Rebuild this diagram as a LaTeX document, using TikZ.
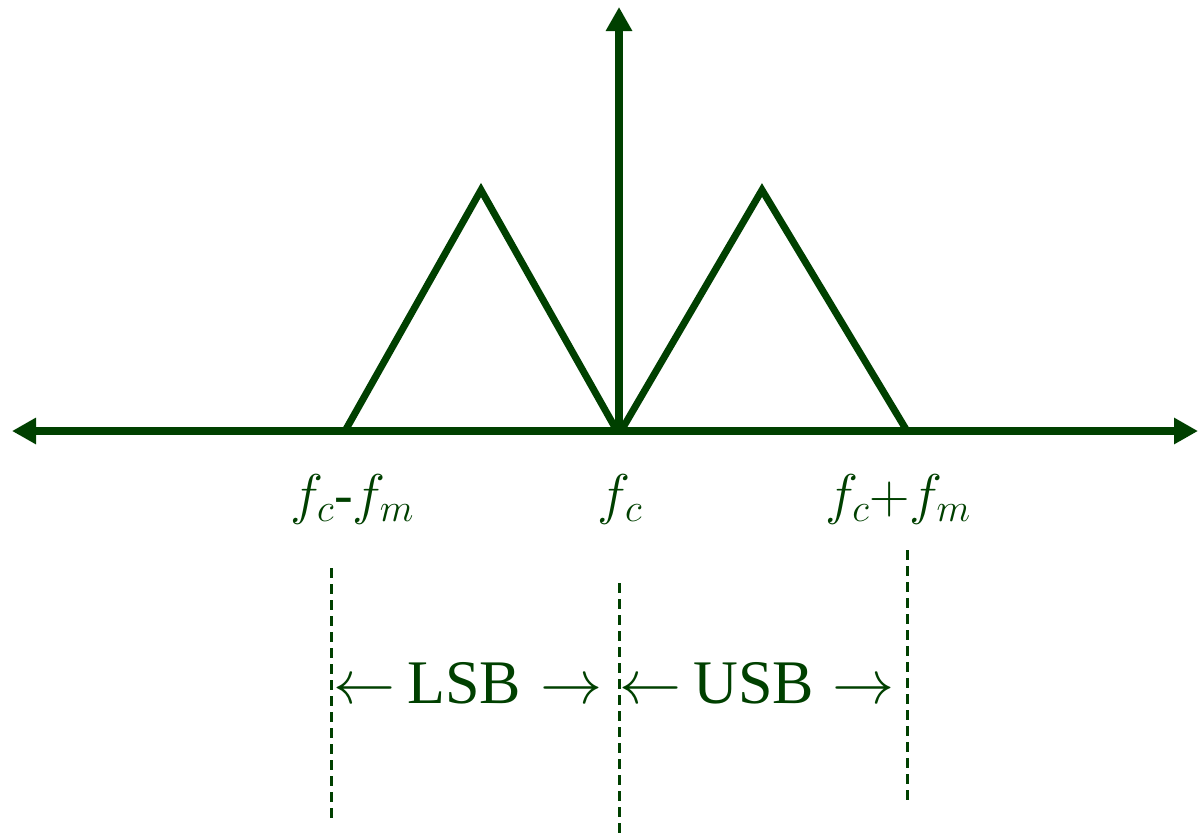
\RequirePackage{fix-cm}
\documentclass[tikz,border=0pt]{standalone}
\usepackage{fontspec}
\setmainfont{Liberation Serif}
\usetikzlibrary{arrows.meta}
\definecolor{dg}{RGB}{0,64,0}
\newcommand\fsub[1]{$f_{#1}$}
\begin{document}
\begin{tikzpicture}[x=1pt,y=-1pt,
  axis/.style={draw=dg,line width=7.5pt,-{Triangle[length=24pt,width=25pt]}},
  tri/.style={draw=dg,line width=7pt,line join=miter},
  dline/.style={draw=dg,line width=3pt,dash pattern=on 10pt off 6pt},
  flabel/.style={text=dg,font=\fontsize{56}{60}\selectfont,anchor=base,inner sep=0pt},
  blabel/.style={text=dg,font=\fontsize{62}{64}\selectfont,anchor=base,inner sep=0pt}]
\useasboundingbox (0,0) rectangle (1198,836);
\coordinate (L) at (12,431);
\coordinate (R) at (1198,431);
\coordinate (O) at (619,431);
\coordinate (T) at (619,7);
\coordinate (A1) at (345,431);
\coordinate (P1) at (481,190);
\coordinate (B1) at (617,431);
\coordinate (A2) at (621,431);
\coordinate (P2) at (762,190);
\coordinate (B2) at (907,431);
\draw[axis] (O) -- (L);
\draw[axis] (O) -- (R);
\draw[axis] (O) -- (T);
\draw[tri] (A1) -- (P1) -- (B1);
\draw[tri] (A2) -- (P2) -- (B2);
\node[flabel] (lab1) at (352,513) {\fsub{c}-\fsub{m}};
\node[flabel] (lab2) at (620,513) {\fsub{c}};
\node[flabel] (lab3) at (898,513) {$f_c{+}f_m$};
\coordinate (d1t) at (331,568);
\coordinate (d1b) at (331,820);
\coordinate (d2t) at (619,583);
\coordinate (d2b) at (619,836);
\coordinate (d3t) at (907,550);
\coordinate (d3b) at (907,805);
\draw[dline] (d1t) -- (d1b);
\draw[dline] (d2t) -- (d2b);
\draw[dline] (d3t) -- (d3b);
\node[blabel] (lsb) at (468,703) {$\leftarrow$\kern12pt LSB\kern20pt$\rightarrow$};
\node[blabel] (usb) at (757,703) {$\leftarrow$\kern12pt USB\kern18pt$\rightarrow$};
\end{tikzpicture}
\end{document}
